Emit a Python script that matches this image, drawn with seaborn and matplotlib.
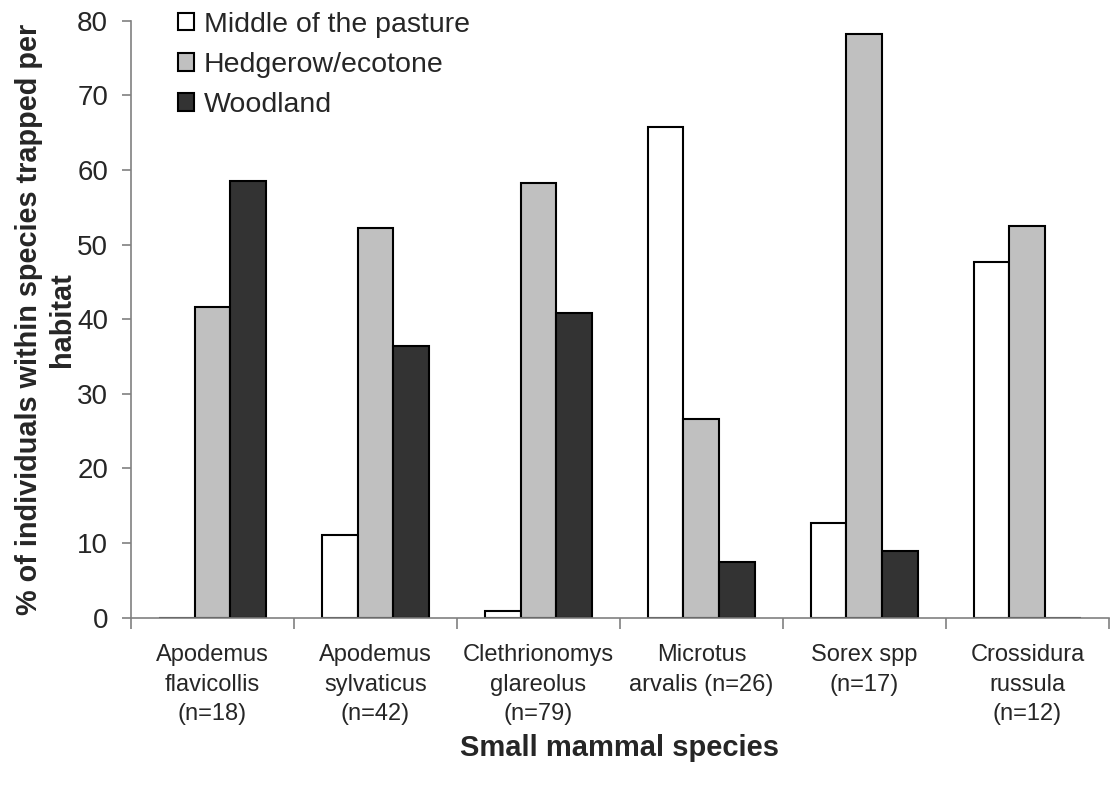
import numpy as np
import pandas as pd
import matplotlib
matplotlib.use("Agg")
import matplotlib.pyplot as plt
import seaborn as sns

# valores (% por habitat)
especies = ["Apodemus\nflavicollis\n(n=18)", "Apodemus\nsylvaticus\n(n=42)",
            "Clethrionomys\nglareolus\n(n=79)", "Microtus\narvalis (n=26)",
            "Sorex spp\n(n=17)", "Crossidura\nrussula\n(n=12)"]
habitats = ["Middle of the pasture", "Hedgerow/ecotone", "Woodland"]
pasture = [0.0, 11.1, 0.9, 65.8, 12.7, 47.7]
hedgerow = [41.7, 52.2, 58.3, 26.6, 78.2, 52.5]
woodland = [58.5, 36.4, 40.8, 7.5, 9.0, 0.0]
colores = ["#FFFFFF", "#C0C0C0", "#333333"]

df = pd.DataFrame({
    "species": especies * 3,
    "habitat": np.repeat(habitats, len(especies)),
    "pct": pasture + hedgerow + woodland,
})

sns.set_style("white")
plt.rcParams["font.family"] = ["Liberation Sans", "DejaVu Sans"]

fig = plt.figure(figsize=(11.1, 7.87), dpi=100)
ax = fig.add_axes([0.118, 0.2151, 0.881, 0.7586])

sns.barplot(data=df, x="species", y="pct", hue="habitat", order=especies,
            hue_order=habitats, palette=colores, saturation=1, width=0.66,
            edgecolor="black", linewidth=1.5, ax=ax)

ax.set_xlim(-0.5, 5.5)
ax.set_ylim(0, 80)
ax.set_yticks(range(0, 81, 10))

for s in ["top", "right"]:
    ax.spines[s].set_visible(False)
for s in ["left", "bottom"]:
    ax.spines[s].set_color("#808080")
    ax.spines[s].set_linewidth(1.2)

# etiquetas en el centro, marcas entre grupos
ax.set_xticks(range(len(especies)))
ax.set_xticklabels(especies, fontsize=17, linespacing=1.45)
ax.set_xticks(np.arange(-0.5, len(especies)), minor=True)
ax.tick_params(axis="x", which="major", length=0, pad=19)
ax.tick_params(axis="x", which="minor", length=8, width=1.2,
               color="#808080", direction="out", bottom=True)
ax.tick_params(axis="y", length=6.5, width=1.2, color="#808080",
               direction="out", left=True, labelsize=20, pad=10)

ax.set_xlabel("Small mammal species", fontsize=21, fontweight="bold", labelpad=6)
ax.set_ylabel("% of individuals within species trapped per\nhabitat",
              fontsize=20.8, fontweight="bold", linespacing=1.2, labelpad=1)

h, l = ax.get_legend_handles_labels()
ax.legend(h, l, loc="upper left", bbox_to_anchor=(0.048, 1.015), frameon=False,
          fontsize=20.5, handlelength=0.56, handleheight=0.56, handletextpad=0.35,
          labelspacing=0.5, borderaxespad=0, borderpad=0)

fig.savefig("out.png", dpi=100)
